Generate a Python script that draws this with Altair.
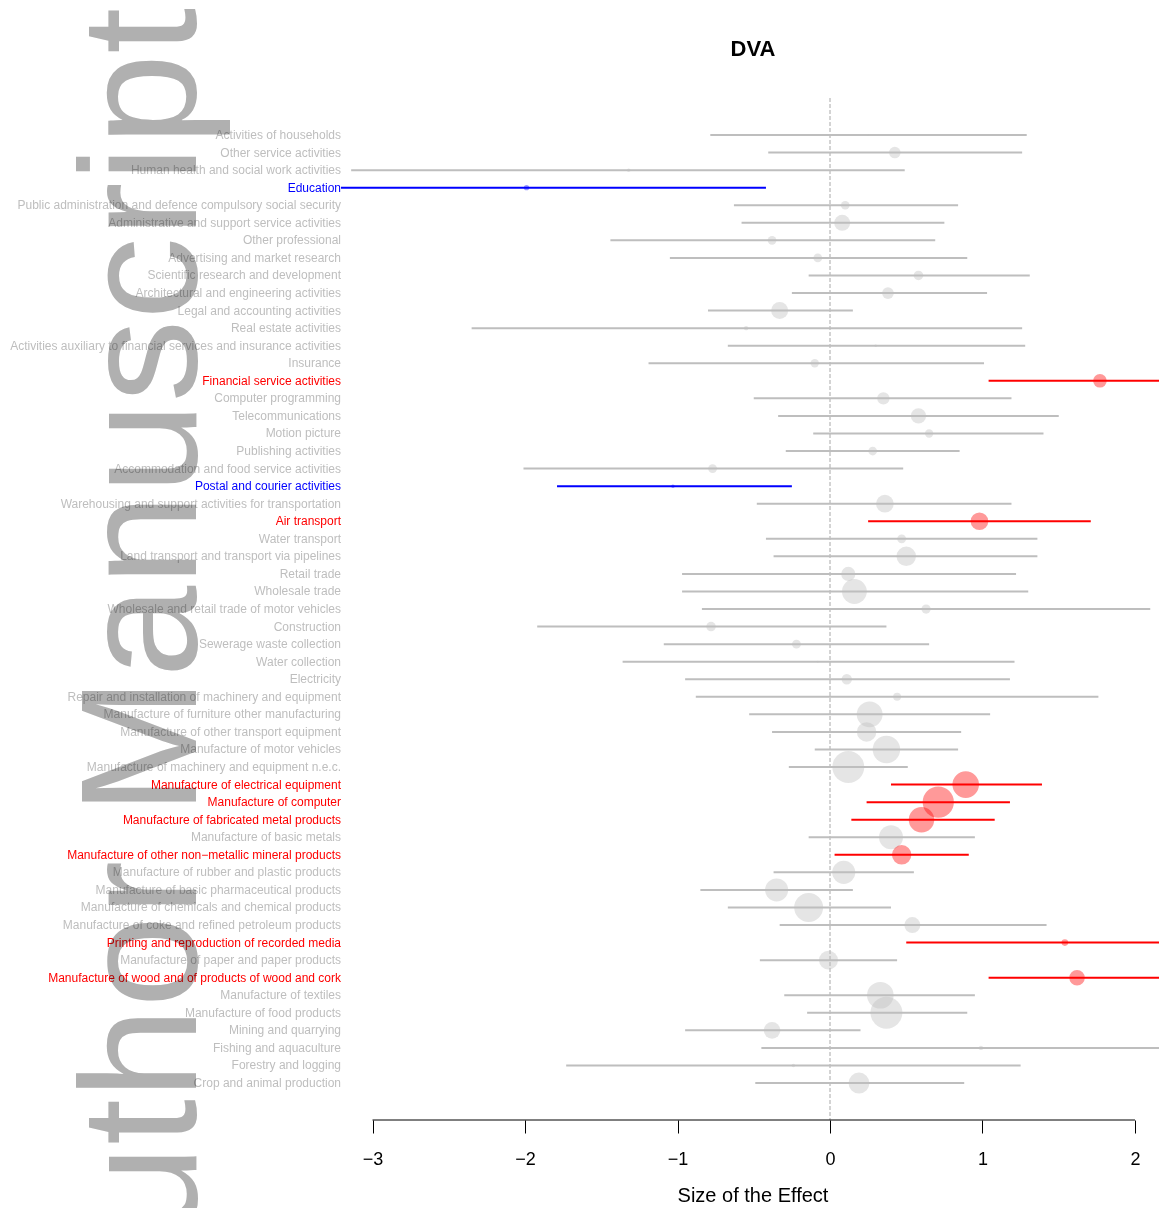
import altair as alt
import pandas as pd

names = [
    "Activities of households",
    "Other service activities",
    "Human health and social work activities",
    "Education",
    "Public administration and defence compulsory social security",
    "Administrative and support service activities",
    "Other professional",
    "Advertising and market research",
    "Scientific research and development",
    "Architectural and engineering activities",
    "Legal and accounting activities",
    "Real estate activities",
    "Activities auxiliary to financial services and insurance activities",
    "Insurance",
    "Financial service activities",
    "Computer programming",
    "Telecommunications",
    "Motion picture",
    "Publishing activities",
    "Accommodation and food service activities",
    "Postal and courier activities",
    "Warehousing and support activities for transportation",
    "Air transport",
    "Water transport",
    "Land transport and transport via pipelines",
    "Retail trade",
    "Wholesale trade",
    "Wholesale and retail trade of motor vehicles",
    "Construction",
    "Sewerage waste collection",
    "Water collection",
    "Electricity",
    "Repair and installation of machinery and equipment",
    "Manufacture of furniture other manufacturing",
    "Manufacture of other transport equipment",
    "Manufacture of motor vehicles",
    "Manufacture of machinery and equipment n.e.c.",
    "Manufacture of electrical equipment",
    "Manufacture of computer",
    "Manufacture of fabricated metal products",
    "Manufacture of basic metals",
    "Manufacture of other non\u2212metallic mineral products",
    "Manufacture of rubber and plastic products",
    "Manufacture of basic pharmaceutical products",
    "Manufacture of chemicals and chemical products\u00a0",
    "Manufacture of coke and refined petroleum products\u00a0",
    "Printing and reproduction of recorded media",
    "Manufacture of paper and paper products",
    "Manufacture of wood and of products of wood and cork",
    "Manufacture of textiles",
    "Manufacture of food products",
    "Mining and quarrying",
    "Fishing and aquaculture",
    "Forestry and logging",
    "Crop and animal production",
]

estimate = [0.25, 0.425, -1.32, -1.99, 0.10, 0.08, -0.38, -0.08, 0.58, 0.38,
            -0.33, -0.55, 0.30, -0.10, 1.77, 0.35, 0.58, 0.65, 0.28, -0.77,
            -1.03, 0.36, 0.98, 0.47, 0.50, 0.12, 0.16, 0.63, -0.78, -0.22,
            -0.08, 0.11, 0.44, 0.26, 0.24, 0.37, 0.12, 0.89, 0.71, 0.60,
            0.40, 0.47, 0.09, -0.35, -0.14, 0.54, 1.54, -0.01, 1.62, 0.33,
            0.37, -0.38, 0.99, -0.24, 0.19]

lower = [-0.785, -0.405, -3.14, -3.50, -0.63, -0.58, -1.44, -1.05, -0.14, -0.25,
         -0.80, -2.35, -0.67, -1.19, 1.04, -0.50, -0.34, -0.11, -0.29, -2.01,
         -1.79, -0.48, 0.25, -0.42, -0.37, -0.97, -0.97, -0.84, -1.92, -1.09,
         -1.36, -0.95, -0.88, -0.53, -0.38, -0.10, -0.27, 0.40, 0.24, 0.14,
         -0.14, 0.03, -0.37, -0.85, -0.67, -0.33, 0.50, -0.46, 1.04, -0.30,
         -0.15, -0.95, -0.45, -1.73, -0.49]

upper = [1.29, 1.26, 0.49, -0.42, 0.84, 0.75, 0.69, 0.90, 1.31, 1.03,
         0.15, 1.26, 1.28, 1.01, 2.50, 1.19, 1.50, 1.40, 0.85, 0.48,
         -0.25, 1.19, 1.71, 1.36, 1.36, 1.22, 1.30, 2.10, 0.37, 0.65,
         1.21, 1.18, 1.76, 1.05, 0.86, 0.84, 0.51, 1.39, 1.18, 1.08,
         0.95, 0.91, 0.55, 0.15, 0.40, 1.42, 2.60, 0.44, 2.20, 0.95,
         0.90, 0.20, 2.45, 1.25, 0.88]

weight = [0.02, 4.2, 0.4, 0.9, 2.4, 8.1, 2.4, 2.4, 2.9, 4.4,
          9.2, 0.6, 0.2, 2.2, 5.9, 4.9, 7.4, 2.2, 2.4, 2.5,
          0.4, 10.0, 10.0, 2.5, 12.1, 6.4, 19.6, 2.7, 2.9, 2.5,
          0.1, 3.4, 2.0, 21.3, 12.1, 24.0, 32.4, 22.5, 31.0, 20.7,
          18.2, 12.1, 16.9, 16.9, 26.6, 8.1, 1.4, 11.4, 7.7, 22.5,
          32.4, 8.8, 0.6, 0.4, 13.9]

significance = ["ns", "ns", "ns", "neg", "ns", "ns", "ns", "ns", "ns", "ns",
                "ns", "ns", "ns", "ns", "pos", "ns", "ns", "ns", "ns", "ns",
                "neg", "ns", "pos", "ns", "ns", "ns", "ns", "ns", "ns", "ns",
                "ns", "ns", "ns", "ns", "ns", "ns", "ns", "pos", "pos", "pos",
                "ns", "pos", "ns", "ns", "ns", "ns", "pos", "ns", "pos", "ns",
                "ns", "ns", "ns", "ns", "ns"]

tick_values = [-3, -2, -1, 0, 1, 2]

df = pd.DataFrame({
    "row": list(range(1, len(names) + 1)),
    "name": names,
    "est": estimate,
    "lo": lower,
    "hi": upper,
    "weight": weight,
    "sig": significance,
})

W, H = 818, 1022
FONT = "Liberation Sans"

xscale = alt.Scale(domain=[-3.2066, 2.1574], nice=False, zero=False)
yscale = alt.Scale(domain=[-1.11, 57.106], nice=False, zero=False, reverse=True)
xaxis = alt.Axis(values=tick_values, domain=False, grid=False, tickSize=13,
                 tickColor="black", tickWidth=1, labelFontSize=18, labelFont=FONT,
                 labelColor="black", labelBaseline="alphabetic", labelPadding=31,
                 labelFlush=False, title=None)
color = alt.Color("sig:N", scale=alt.Scale(domain=["neg", "ns", "pos"],
                                           range=["#0000FF", "#BEBEBE", "#FF0000"]),
                  legend=None)

base = alt.Chart(df)

zero_line = alt.Chart(pd.DataFrame({"v": [0]})).mark_rule(
    color="#A8A8A8", strokeDash=[4, 2], strokeWidth=1
).encode(x=alt.X("v:Q", scale=xscale, axis=xaxis), y=alt.value(0), y2=alt.value(H))

ci = base.mark_rule(strokeWidth=2, clip=True).encode(
    x=alt.X("lo:Q", scale=xscale, axis=xaxis),
    x2="hi:Q",
    y=alt.Y("row:Q", scale=yscale, axis=None),
    color=color,
)

pts = base.mark_circle(opacity=0.4, clip=True).encode(
    x=alt.X("est:Q", scale=xscale, axis=xaxis),
    y=alt.Y("row:Q", scale=yscale, axis=None),
    color=color,
    size=alt.Size("weight:Q", scale=alt.Scale(domain=[0, 10], range=[0, 314.16]),
                  legend=None),
)

labels = base.mark_text(align="right", baseline="middle", fontSize=12, font=FONT).encode(
    x=alt.value(0),
    y=alt.Y("row:Q", scale=yscale, axis=None),
    text="name:N",
    color=color,
)

axis_line = alt.Chart(pd.DataFrame({"a": [tick_values[0]], "b": [tick_values[-1]]})).mark_rule(
    color="black", strokeWidth=1
).encode(x=alt.X("a:Q", scale=xscale, axis=xaxis), x2="b:Q", y=alt.value(H))

title = alt.Chart(pd.DataFrame({"t": ["DVA"]})).mark_text(
    fontSize=22, fontWeight="bold", font=FONT, align="center", baseline="alphabetic",
    color="black"
).encode(text="t:N", x=alt.value(412), y=alt.value(-42.3))

xtitle = alt.Chart(pd.DataFrame({"t": ["Size of the Effect"]})).mark_text(
    fontSize=20, font=FONT, align="center", baseline="alphabetic", color="black"
).encode(text="t:N", x=alt.value(412), y=alt.value(1104))

watermark = alt.Chart(pd.DataFrame({"t": ["Author Manuscript"]})).mark_text(
    fontSize=165, font=FONT, align="right", baseline="alphabetic", angle=270,
    color="#B0B0B0", blend="multiply"
).encode(text="t:N", x=alt.value(-145), y=alt.value(-90))

chart = alt.layer(zero_line, ci, pts, labels, axis_line, title, xtitle, watermark).properties(
    width=W, height=H,
    autosize=alt.AutoSizeParams(type="none"),
    padding={"left": 333, "top": 90, "right": 0, "bottom": 88},
).configure_view(stroke=None)

chart.save("out.html", embed_options={"renderer": "svg", "actions": False})
